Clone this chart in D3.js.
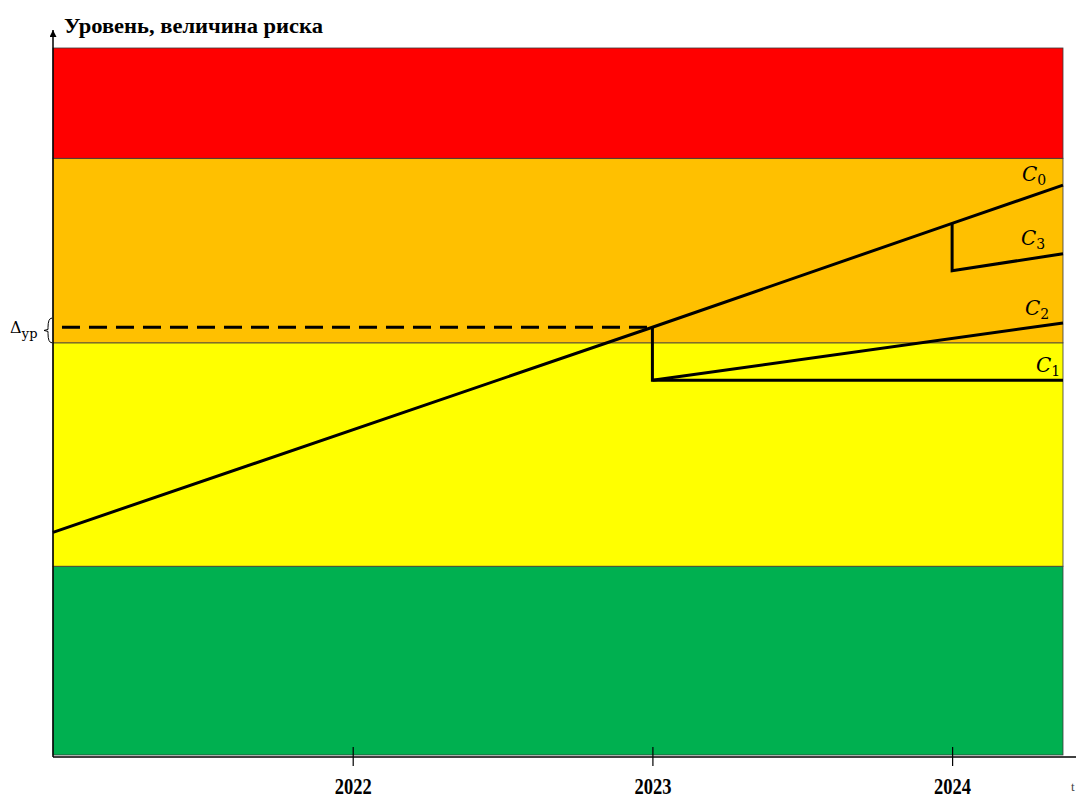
<!DOCTYPE html>
<html>
<head>
<meta charset="utf-8">
<script src="https://cdn.jsdelivr.net/npm/d3@7"></script>
<style>
  body { margin:0; background:#fff; }
  svg { display:block; }
</style>
</head>
<body>
<svg id="chart" width="1076" height="799"></svg>
<script>
// risk zones (level from / to), bottom to top
let zoneFrom   = [ 0, 26.7, 58.3, 84.4 ] ;
let zoneTo     = [ 26.7, 58.3, 84.4, 100 ] ;
let zoneColors = [ "#00B050", "#FFFF00", "#FFC000", "#FF0000" ] ;

// year ticks
let tickYears  = [ 2022, 2023, 2024 ] ;

// scenario lines: years and levels
let c0Years  = [ 2021.0, 2023, 2024, 2024.37 ] ;
let c0Levels = [ 31.5, 60.5, 75.2, 80.6 ] ;
let c1Years  = [ 2023, 2023, 2024.37 ] ;
let c1Levels = [ 60.5, 53.0, 53.0 ] ;
let c2Years  = [ 2023, 2024.37 ] ;
let c2Levels = [ 53.0, 61.1 ] ;
let c3Years  = [ 2024, 2024, 2024.37 ] ;
let c3Levels = [ 75.2, 68.5, 70.9 ] ;

// dashed level at 2023
let dashYears  = [ 2021.03, 2023 ] ;
let dashLevels = [ 60.5, 60.5 ] ;

// labels C0..C3
let lineLabels  = [ "0", "1", "2", "3" ] ;
let labelYears  = [ 2024.233, 2024.28, 2024.243, 2024.23 ] ;
let labelLevels = [ 81.2, 54.2, 62.2, 72.1 ] ;

let svg = d3.select("#chart") ;
let pLeft = 53, pRight = 1063, pTop = 48, pBottom = 755 ;

let xScale = d3.scaleLinear().domain([ 2021.0, 2024.37 ]).range([ pLeft, pRight ]) ;
let yScale = d3.scaleLinear().domain([ 0, 100 ]).range([ pBottom, pTop ]) ;

// zones
svg.append("g").selectAll("rect")
	.data(zoneFrom).enter().append("rect")
		.attr("x", pLeft)
		.attr("width", pRight - pLeft)
		.attr("y", (d,i)=>{ return yScale(zoneTo[i]); })
		.attr("height", (d,i)=>{ return yScale(zoneFrom[i]) - yScale(zoneTo[i]); })
		.attr("fill", (d,i)=>{ return zoneColors[i]; })
		.attr("stroke", "#3a3a3a")
		.attr("stroke-width", 0.8)
;

// axes
svg.append("defs").append("marker")
	.attr("id", "arr")
	.attr("viewBox", "0 0 10 10")
	.attr("refX", 5).attr("refY", 0)
	.attr("markerWidth", 7).attr("markerHeight", 9)
	.attr("markerUnits", "userSpaceOnUse")
	.attr("orient", "0")
	.append("path").attr("d", "M0,10 L5,0 L10,10 Z").attr("fill", "#000") ;

svg.append("line")
	.attr("x1", pLeft).attr("x2", pLeft)
	.attr("y1", pBottom + 2).attr("y2", 30)
	.attr("stroke", "#000").attr("stroke-width", 1.5)
	.attr("marker-end", "url(#arr)") ;

svg.append("line")
	.attr("x1", pLeft).attr("x2", 1076)
	.attr("y1", pBottom + 2).attr("y2", pBottom + 2)
	.attr("stroke", "#000").attr("stroke-width", 1.5) ;

let xAxis = d3.axisBottom(xScale).tickValues(tickYears).tickSize(0).tickFormat(d3.format("d")) ;
let axG = svg.append("g").attr("transform", "translate(0," + (pBottom + 2) + ")").call(xAxis) ;
axG.select(".domain").remove() ;
axG.selectAll(".tick line").remove() ;
axG.selectAll(".tick").append("line")
	.attr("y1", -10).attr("y2", 9)
	.attr("stroke", "#000").attr("stroke-width", 1.2) ;
axG.selectAll(".tick text")
	.attr("y", 37)
	.attr("dy", 0)
	.attr("font-family", "Liberation Serif")
	.attr("font-weight", "bold")
	.attr("font-size", 24)
	.attr("fill", "#000")
	.attr("textLength", 37)
	.attr("lengthAdjust", "spacingAndGlyphs") ;

svg.append("text")
	.attr("x", 1071).attr("y", 791)
	.attr("font-family", "Liberation Serif")
	.attr("font-size", 13)
	.attr("fill", "#444")
	.text("t") ;

// title
svg.append("text")
	.attr("x", 64).attr("y", 33)
	.attr("font-family", "Liberation Serif")
	.attr("font-weight", "bold")
	.attr("font-size", 22)
	.attr("textLength", 259)
	.attr("lengthAdjust", "spacingAndGlyphs")
	.text("Уровень, величина риска") ;

// lines
let lineGen = d3.line().x(d=>xScale(d[0])).y(d=>yScale(d[1])) ;
let series = [
	[ c0Years, c0Levels ], [ c1Years, c1Levels ], [ c2Years, c2Levels ], [ c3Years, c3Levels ]
] ;
svg.append("g").selectAll("path")
	.data(series).enter().append("path")
		.attr("d", (d)=>{ return lineGen(d3.zip(d[0], d[1])); })
		.attr("fill", "none")
		.attr("stroke", "#000")
		.attr("stroke-width", 3)
		.attr("stroke-linejoin", "miter")
;

svg.append("path")
	.attr("d", lineGen(d3.zip(dashYears, dashLevels)))
	.attr("fill", "none")
	.attr("stroke", "#000")
	.attr("stroke-width", 3)
	.attr("stroke-dasharray", "18,9") ;

// line labels
let lblG = svg.append("g") ;
lineLabels.forEach((s,i)=>{
	let t = lblG.append("text")
		.attr("x", xScale(labelYears[i]))
		.attr("y", yScale(labelLevels[i]))
		.attr("font-family", "DejaVu Serif")
		.attr("font-style", "italic")
		.attr("font-size", 20)
		.attr("fill", "#000") ;
	t.append("tspan").text("C") ;
	t.append("tspan").attr("dy", 4).attr("font-size", 14).attr("font-style", "normal").text(s) ;
}) ;

// delta label and brace
let dl = svg.append("text")
	.attr("x", 10).attr("y", yScale(60.5) + 6)
	.attr("font-family", "DejaVu Serif")
	.attr("font-size", 16)
	.attr("fill", "#000") ;
dl.append("tspan").text("Δ") ;
dl.append("tspan").attr("dy", 5).attr("font-size", 13).text("ур") ;

let bTop = yScale(61.8), bBot = yScale(58.3), bMid = (bTop + bBot) / 2 ;
svg.append("path")
	.attr("d", "M" + (pLeft - 1) + "," + bTop + " Q" + (pLeft - 5) + "," + bTop + " " + (pLeft - 5) + "," + (bMid - 3) +
		" L" + (pLeft - 5) + "," + (bMid - 1) + " L" + (pLeft - 9) + "," + bMid +
		" L" + (pLeft - 5) + "," + (bMid + 1) + " L" + (pLeft - 5) + "," + (bMid + 3) +
		" Q" + (pLeft - 5) + "," + bBot + " " + (pLeft - 1) + "," + bBot)
	.attr("fill", "none")
	.attr("stroke", "#000")
	.attr("stroke-width", 1) ;
</script>
</body>
</html>
